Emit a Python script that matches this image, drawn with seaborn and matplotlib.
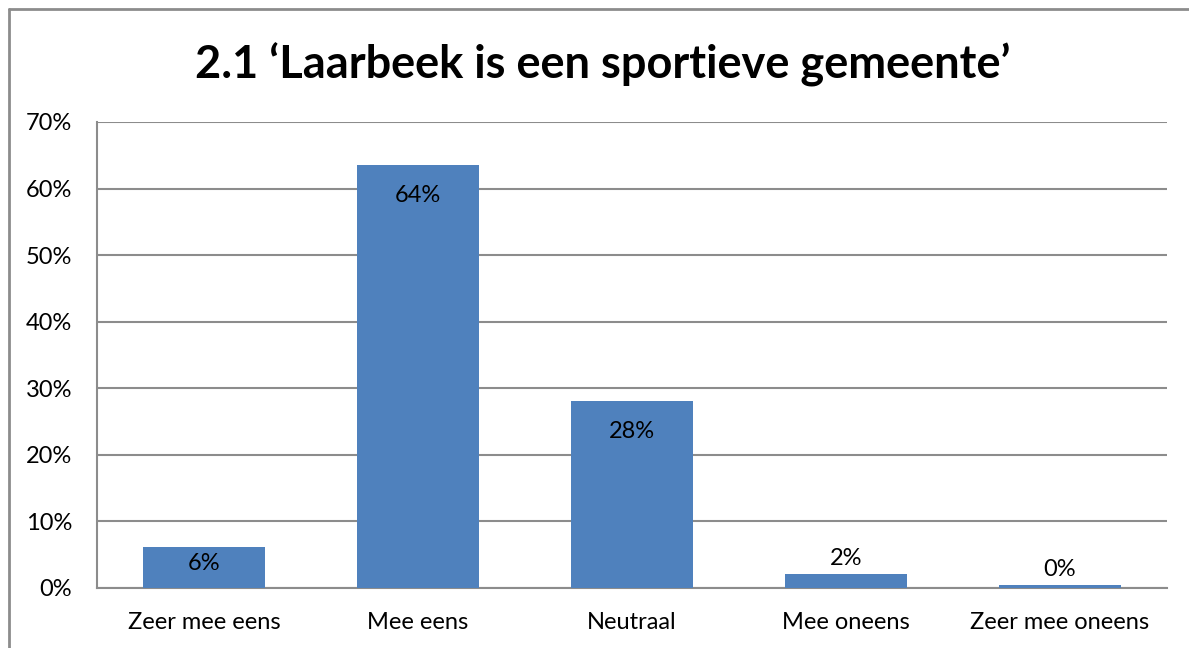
import matplotlib
matplotlib.use("Agg")
import matplotlib.pyplot as plt
from matplotlib.lines import Line2D
import pandas as pd
import seaborn as sns

categories = ["Zeer mee eens", "Mee eens", "Neutraal", "Mee oneens", "Zeer mee oneens"]
values = [0.062, 0.635, 0.281, 0.021, 0.004]
value_labels = ["6%", "64%", "28%", "2%", "0%"]
y_ticks = [0.0, 0.1, 0.2, 0.3, 0.4, 0.5, 0.6, 0.7]
y_tick_labels = ["0%", "10%", "20%", "30%", "40%", "50%", "60%", "70%"]
title = "2.1 \u2018Laarbeek is een sportieve gemeente\u2019"


def main():
    sns.set_style("white")
    plt.rcParams["font.family"] = ["Lato", "DejaVu Sans"]
    plt.rcParams["text.color"] = "black"

    df = pd.DataFrame({"antwoord": categories, "aandeel": values})

    fig = plt.figure(figsize=(11.89, 6.48), dpi=100)
    ax = fig.add_axes([97 / 1189, 1 - 588 / 648, (1167 - 97) / 1189, (588 - 122) / 648])

    grey = "#8c8c8c"
    sns.barplot(data=df, x="antwoord", y="aandeel", color="#4f81bd",
                saturation=1, width=0.57, linewidth=0, ax=ax, zorder=3)

    ax.set_ylim(0, 0.7)
    ax.set_xlim(-0.5, len(categories) - 0.5)
    ax.set_yticks(y_ticks)
    ax.set_yticklabels(y_tick_labels)
    ax.yaxis.grid(True, color=grey, linewidth=1.5, zorder=0)
    ax.set_axisbelow(True)
    ax.set_xlabel("")
    ax.set_ylabel("")
    ax.tick_params(axis="both", length=0, labelsize=17, labelcolor="black")
    ax.tick_params(axis="y", pad=18)
    ax.tick_params(axis="x", pad=17)

    for side in ["top", "right"]:
        ax.spines[side].set_visible(False)
    for side in ["left", "bottom"]:
        ax.spines[side].set_color(grey)
        ax.spines[side].set_linewidth(1.5)

    # labels: inside near top for big bars, squeezed in for short ones, above tiny ones
    for i, (v, lab) in enumerate(zip(values, value_labels)):
        if v > 0.1:
            ax.text(i, v - 0.03, lab, ha="center", va="top", fontsize=17,
                    color="black", zorder=5)
        elif v > 0.05:
            ax.text(i, v - 0.009, lab, ha="center", va="top", fontsize=17,
                    color="black", zorder=5)
        else:
            ax.text(i, v + 0.008, lab, ha="center", va="bottom", fontsize=17,
                    color="black", zorder=5)

    fig.text(603 / 1189, 1 - 65 / 648, title, ha="center", va="center",
             fontsize=32.5, fontweight="bold", color="black")

    # chart frame (top and left edges visible)
    bx = 9 / 1189
    by = 1 - 9 / 648
    fig.add_artist(Line2D([bx, 1], [by, by], color=grey, linewidth=2))
    fig.add_artist(Line2D([bx, bx], [0, by], color=grey, linewidth=2))

    fig.savefig("out.png", dpi=100)
    plt.close(fig)


if __name__ == "__main__":
    main()
